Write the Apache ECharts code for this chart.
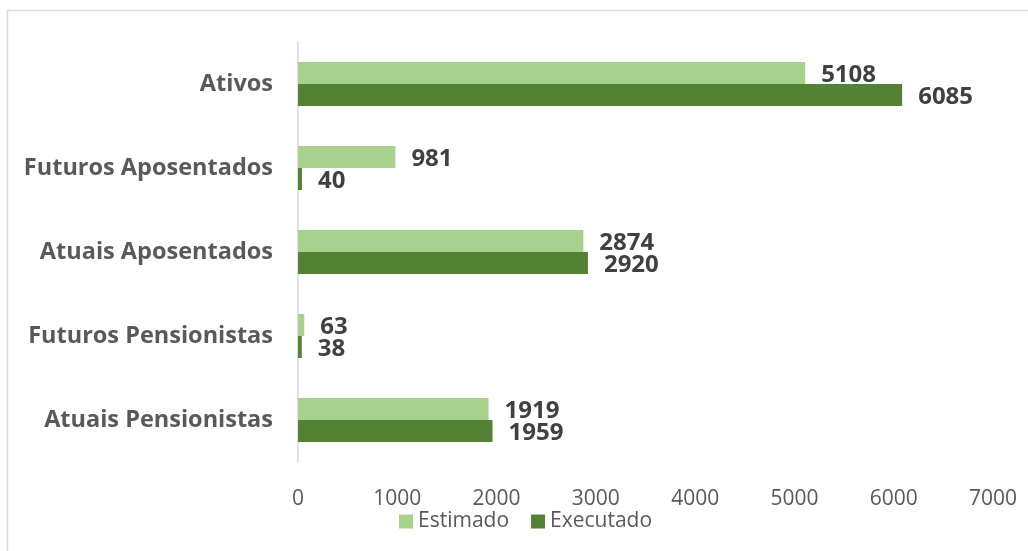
<!DOCTYPE html>
<html>
<head>
<meta charset="utf-8">
<script src="https://cdn.jsdelivr.net/npm/echarts@6/dist/echarts.min.js"></script>
<style>
html,body{margin:0;padding:0;background:#fff;}
#chart{width:1028px;height:551px;}
</style>
</head>
<body>
<div id="chart"></div>
<script>
const categories = ['Ativos', 'Futuros Aposentados', 'Atuais Aposentados', 'Futuros Pensionistas', 'Atuais Pensionistas'];
const estimado = [5108, 981, 2874, 63, 1919];
const executado = [6085, 40, 2920, 38, 1959];
const seriesNames = ['Estimado', 'Executado'];
const xTicks = [0, 1000, 2000, 3000, 4000, 5000, 6000, 7000];

const FONT = '"Open Sans", sans-serif';
const chart = echarts.init(document.getElementById('chart'));
const valueLabel = {
  show: true, position: 'right', distance: 16, offset: [0, 2],
  fontFamily: FONT, fontWeight: 'bold', fontSize: 24, color: '#404040'
};
chart.setOption({
  animation: false,
  backgroundColor: '#fff',
  graphic: [{
    type: 'rect', silent: true,
    shape: { x: 7.5, y: 10.5, width: 1100, height: 600 },
    style: { fill: 'none', stroke: '#d9d9d9', lineWidth: 1.5 }
  }],
  grid: { left: 298, right: 35, top: 42, bottom: 89, containLabel: false },
  legend: {
    data: seriesNames, top: 506, left: 394,
    itemWidth: 14, itemHeight: 14, itemGap: 22, itemStyle: { borderWidth: 0 },
    icon: 'rect',
    textStyle: { fontFamily: FONT, fontSize: 21, color: '#595959' }
  },
  xAxis: {
    type: 'value', min: xTicks[0], max: xTicks[xTicks.length - 1], interval: 1000,
    axisLine: { show: false }, axisTick: { show: false }, splitLine: { show: false },
    axisLabel: { margin: 27, fontFamily: FONT, fontSize: 21, color: '#595959',
      formatter: v => String(v) }
  },
  yAxis: {
    type: 'category', data: categories, inverse: true,
    axisLine: { show: true, lineStyle: { color: '#d9d9d9', width: 1.5 } },
    axisTick: { show: false },
    axisLabel: { margin: 25, fontFamily: FONT, fontWeight: 'bold', fontSize: 23.5, color: '#595959' }
  },
  series: [
    { name: seriesNames[0], type: 'bar', data: estimado, barWidth: 22, barGap: '0%',
      itemStyle: { color: '#a9d18e' }, label: valueLabel },
    { name: seriesNames[1], type: 'bar', data: executado, barWidth: 22, barGap: '0%',
      itemStyle: { color: '#548235' }, label: valueLabel }
  ]
});
</script>
</body>
</html>
